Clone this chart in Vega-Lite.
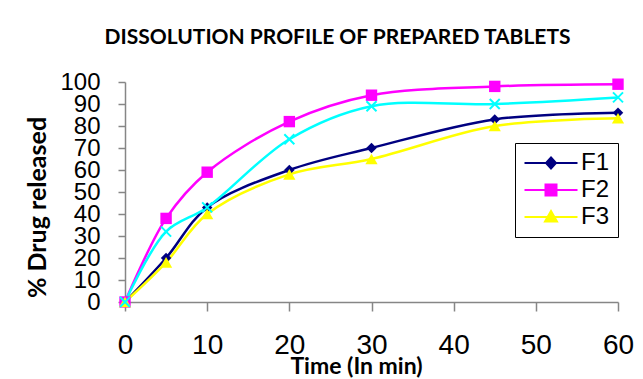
{
  "$schema": "https://vega.github.io/schema/vega-lite/v6.json",
  "autosize": "none",
  "width": 493,
  "height": 220,
  "padding": {"left": 125, "top": 82, "right": 25, "bottom": 77},
  "background": "white",
  "title": {
    "text": "DISSOLUTION PROFILE OF PREPARED TABLETS",
    "font": "Lato",
    "fontWeight": "bold",
    "fontSize": 21,
    "color": "black",
    "anchor": "middle",
    "frame": "group",
    "baseline": "alphabetic",
    "offset": 5,
    "dx": -34
  },
  "data": {
    "values": [
      {"t": 0, "v": 0, "s": "F1"}, {"t": 5, "v": 20, "s": "F1"}, {"t": 10, "v": 43, "s": "F1"}, {"t": 20, "v": 60, "s": "F1"}, {"t": 30, "v": 70, "s": "F1"}, {"t": 45, "v": 83, "s": "F1"}, {"t": 60, "v": 86, "s": "F1"},
      {"t": 0, "v": 0, "s": "F2"}, {"t": 5, "v": 38, "s": "F2"}, {"t": 10, "v": 59, "s": "F2"}, {"t": 20, "v": 82, "s": "F2"}, {"t": 30, "v": 94, "s": "F2"}, {"t": 45, "v": 98, "s": "F2"}, {"t": 60, "v": 99, "s": "F2"},
      {"t": 0, "v": 0, "s": "F3"}, {"t": 5, "v": 18, "s": "F3"}, {"t": 10, "v": 40, "s": "F3"}, {"t": 20, "v": 58, "s": "F3"}, {"t": 30, "v": 65, "s": "F3"}, {"t": 45, "v": 80, "s": "F3"}, {"t": 60, "v": 83.5, "s": "F3"},
      {"t": 0, "v": 0, "s": "F4"}, {"t": 5, "v": 32, "s": "F4"}, {"t": 10, "v": 43, "s": "F4"}, {"t": 20, "v": 74, "s": "F4"}, {"t": 30, "v": 89, "s": "F4"}, {"t": 45, "v": 90, "s": "F4"}, {"t": 60, "v": 93, "s": "F4"}
    ]
  },
  "encoding": {
    "x": {
      "field": "t", "type": "quantitative",
      "scale": {"domain": [0, 60], "nice": false, "zero": false},
      "axis": {
        "values": [0, 10, 20, 30, 40, 50, 60],
        "title": "Time (In min)",
        "titleFont": "Lato", "titleFontWeight": "bold", "titleFontSize": 23, "titleColor": "black",
        "titleX": 231, "titleY": 71, "titleAlign": "center", "titleBaseline": "alphabetic",
        "labelFont": "Liberation Sans", "labelFontSize": 28, "labelColor": "black",
        "labelPadding": 20, "tickSize": 9, "labelFlush": false, "labelOverlap": false
      }
    },
    "y": {
      "field": "v", "type": "quantitative",
      "scale": {"domain": [0, 100], "nice": false},
      "axis": {
        "values": [0, 10, 20, 30, 40, 50, 60, 70, 80, 90, 100],
        "title": "% Drug released",
        "titleFont": "Lato", "titleFontWeight": "bold", "titleFontSize": 25, "titleColor": "black",
        "titleX": -75, "titleY": 125, "titleAlign": "center", "titleBaseline": "bottom", "titleAngle": 270,
        "labelFont": "Liberation Sans", "labelFontSize": 24, "labelColor": "black",
        "labelPadding": 18, "tickSize": 7, "labelOverlap": false, "labelFlush": false
      }
    },
    "color": {
      "field": "s", "type": "nominal",
      "scale": {"domain": ["F1", "F2", "F3", "F4"], "range": ["#000080", "#ff00ff", "#ffff00", "#00ffff"]},
      "legend": {
        "values": ["F1", "F2", "F3"],
        "title": null,
        "orient": "none",
        "legendX": 390,
        "legendY": 61,
        "padding": 8,
        "strokeColor": "black",
        "fillColor": "white",
        "symbolSize": 400,
        "symbolOffset": 16,
        "labelOffset": 18,
        "labelFont": "Liberation Sans",
        "labelFontSize": 24,
        "labelColor": "black",
        "rowPadding": 3,
        "encode": {
          "symbols": {
            "update": {
              "shape": {"signal": "datum.value === 'F1' ? 'M-2.65,0L2.65,0M0,-0.55L0.5,0L0,0.55L-0.5,0Z' : datum.value === 'F2' ? 'M-2.65,0L2.65,0M-0.55,-0.55L0.55,-0.55L0.55,0.55L-0.55,0.55Z' : 'M-2.65,0L2.65,0M0,-0.6L0.6,0.45L-0.6,0.45Z'"},
              "fill": {"signal": "datum.value === 'F1' ? '#000080' : datum.value === 'F2' ? '#ff00ff' : '#ffff00'"},
              "stroke": {"signal": "datum.value === 'F1' ? '#000080' : datum.value === 'F2' ? '#ff00ff' : '#ffff00'"},
              "strokeWidth": {"value": 2},
              "opacity": {"value": 1},
              "fillOpacity": {"value": 1},
              "strokeOpacity": {"value": 1},
              "size": {"value": 400}
            }
          }
        }
      }
    }
  },
  "layer": [
    {
      "mark": {"type": "line", "interpolate": "catmull-rom", "strokeWidth": 2.5}
    },
    {
      "transform": [{"filter": "datum.s !== 'F4'"}],
      "mark": {"type": "point", "filled": true, "opacity": 1},
      "encoding": {
        "shape": {
          "field": "s", "type": "nominal",
          "scale": {"domain": ["F1", "F2", "F3"], "range": ["diamond", "square", "triangle-up"]},
          "legend": null
        },
        "size": {
          "field": "s", "type": "nominal",
          "scale": {"domain": ["F1", "F2", "F3"], "range": [110, 150, 150]},
          "legend": null
        }
      }
    },
    {
      "transform": [{"filter": "datum.s === 'F4'"}],
      "mark": {"type": "point", "filled": false, "shape": "M-1,-1L1,1M-1,1L1,-1", "size": 100, "strokeWidth": 2, "opacity": 1}
    }
  ],
  "config": {
    "view": {"stroke": null},
    "axis": {
      "grid": false,
      "domainColor": "#868686",
      "tickColor": "#868686",
      "domainWidth": 1.5,
      "tickWidth": 1.5
    }
  }
}
